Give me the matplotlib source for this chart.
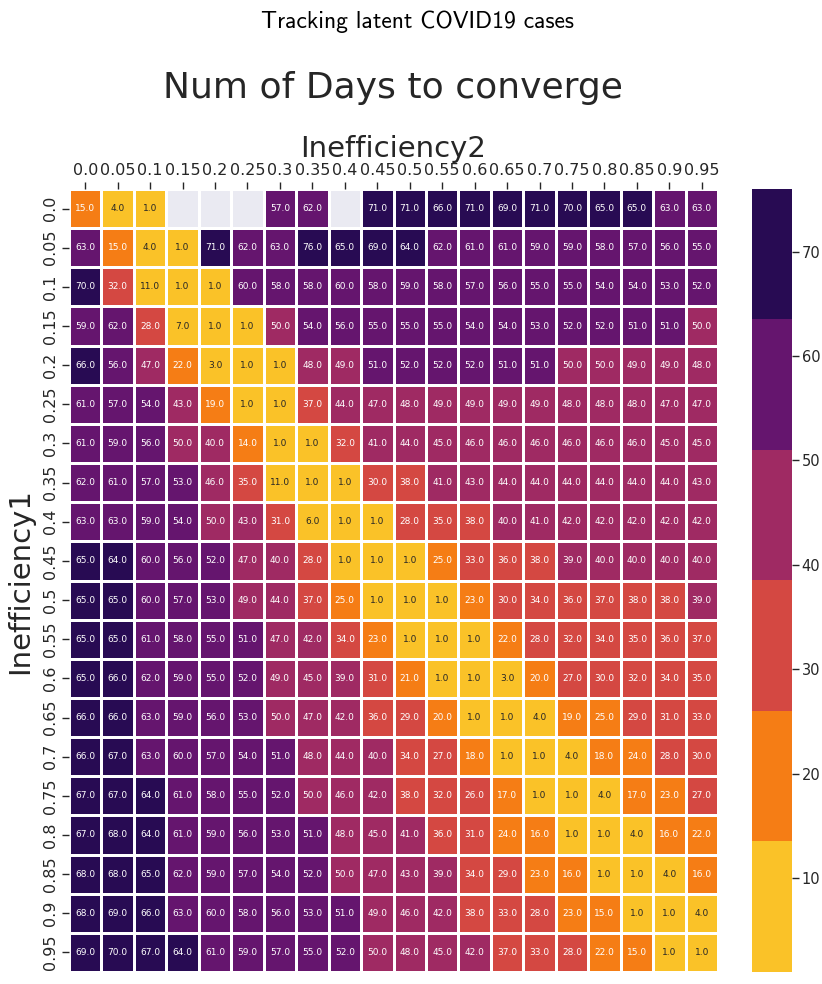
import numpy as np
import matplotlib
matplotlib.use("Agg")
import matplotlib.pyplot as plt
import seaborn as sns

# 收敛天数（行: Inefficiency1, 列: Inefficiency2），nan = 未收敛
ineff1 = ["0.0", "0.05", "0.1", "0.15", "0.2", "0.25", "0.3", "0.35", "0.4", "0.45",
          "0.5", "0.55", "0.6", "0.65", "0.7", "0.75", "0.8", "0.85", "0.9", "0.95"]
ineff2 = list(ineff1)
nan = np.nan
days = [
    [15, 4, 1, nan, nan, nan, 57, 62, nan, 71, 71, 66, 71, 69, 71, 70, 65, 65, 63, 63],
    [63, 15, 4, 1, 71, 62, 63, 76, 65, 69, 64, 62, 61, 61, 59, 59, 58, 57, 56, 55],
    [70, 32, 11, 1, 1, 60, 58, 58, 60, 58, 59, 58, 57, 56, 55, 55, 54, 54, 53, 52],
    [59, 62, 28, 7, 1, 1, 50, 54, 56, 55, 55, 55, 54, 54, 53, 52, 52, 51, 51, 50],
    [66, 56, 47, 22, 3, 1, 1, 48, 49, 51, 52, 52, 52, 51, 51, 50, 50, 49, 49, 48],
    [61, 57, 54, 43, 19, 1, 1, 37, 44, 47, 48, 49, 49, 49, 49, 48, 48, 48, 47, 47],
    [61, 59, 56, 50, 40, 14, 1, 1, 32, 41, 44, 45, 46, 46, 46, 46, 46, 46, 45, 45],
    [62, 61, 57, 53, 46, 35, 11, 1, 1, 30, 38, 41, 43, 44, 44, 44, 44, 44, 44, 43],
    [63, 63, 59, 54, 50, 43, 31, 6, 1, 1, 28, 35, 38, 40, 41, 42, 42, 42, 42, 42],
    [65, 64, 60, 56, 52, 47, 40, 28, 1, 1, 1, 25, 33, 36, 38, 39, 40, 40, 40, 40],
    [65, 65, 60, 57, 53, 49, 44, 37, 25, 1, 1, 1, 23, 30, 34, 36, 37, 38, 38, 39],
    [65, 65, 61, 58, 55, 51, 47, 42, 34, 23, 1, 1, 1, 22, 28, 32, 34, 35, 36, 37],
    [65, 66, 62, 59, 55, 52, 49, 45, 39, 31, 21, 1, 1, 3, 20, 27, 30, 32, 34, 35],
    [66, 66, 63, 59, 56, 53, 50, 47, 42, 36, 29, 20, 1, 1, 4, 19, 25, 29, 31, 33],
    [66, 67, 63, 60, 57, 54, 51, 48, 44, 40, 34, 27, 18, 1, 1, 4, 18, 24, 28, 30],
    [67, 67, 64, 61, 58, 55, 52, 50, 46, 42, 38, 32, 26, 17, 1, 1, 4, 17, 23, 27],
    [67, 68, 64, 61, 59, 56, 53, 51, 48, 45, 41, 36, 31, 24, 16, 1, 1, 4, 16, 22],
    [68, 68, 65, 62, 59, 57, 54, 52, 50, 47, 43, 39, 34, 29, 23, 16, 1, 1, 4, 16],
    [68, 69, 66, 63, 60, 58, 56, 53, 51, 49, 46, 42, 38, 33, 28, 23, 15, 1, 1, 4],
    [69, 70, 67, 64, 61, 59, 57, 55, 52, 50, 48, 45, 42, 37, 33, 28, 22, 15, 1, 1],
]

DARK = "#262626"
plt.rcParams.update({"font.family": ["DejaVu Sans"], "text.color": DARK,
                     "axes.labelcolor": DARK, "xtick.color": DARK, "ytick.color": DARK})

W, H = 822, 984
fig = plt.figure(figsize=(W / 100, H / 100), dpi=100)
ax = fig.add_axes([69 / W, 1 - 972 / H, 649 / W, 783 / H])
cax = fig.add_axes([752 / W, 1 - 972 / H, 40 / W, 783 / H])
ax.set_facecolor("#EAEAF2")

sns.heatmap(np.array(days, dtype=float), ax=ax, cbar_ax=cax,
            cmap=sns.color_palette("inferno_r", 6), annot=True, fmt=".1f",
            annot_kws={"fontsize": 6.5}, linewidths=1, linecolor="white",
            xticklabels=ineff2, yticklabels=ineff1)

ax.xaxis.tick_top()
ax.xaxis.set_label_position("top")
ax.tick_params(axis="both", length=5, width=1, labelsize=11.5, pad=3)
plt.setp(ax.get_xticklabels(), rotation=0)
plt.setp(ax.get_yticklabels(), rotation=90, va="center")
ax.set_xlabel("Inefficiency2", fontsize=21, labelpad=4)
ax.set_ylabel("Inefficiency1", fontsize=21, labelpad=6)

cax.tick_params(length=5, width=1, labelsize=10.5, pad=2, colors=DARK)

fig.text(393 / W, 1 - 88 / H, "Num of Days to converge", ha="center", va="center",
         fontsize=26, color=DARK)
fig.text(417 / W, 1 - 22 / H, "Tracking latent COVID19 cases", ha="center", va="center",
         fontsize=17, family="cmss10", color="black")

fig.savefig("out.png", dpi=100, facecolor="white")
